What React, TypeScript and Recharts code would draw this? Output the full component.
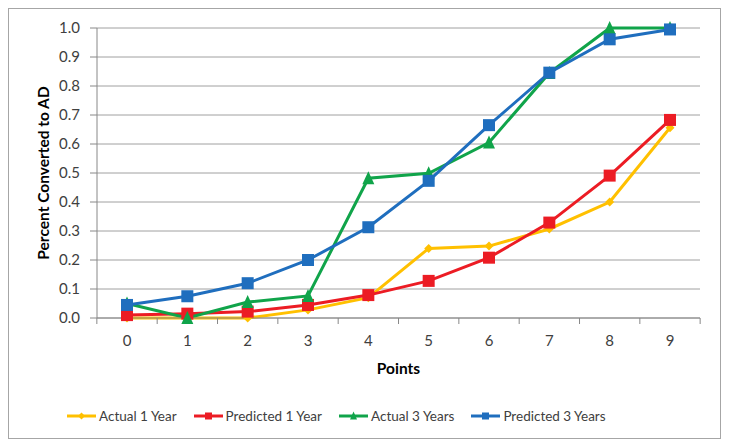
import { LineChart, Line, XAxis, YAxis, CartesianGrid, Legend } from "recharts"

const points = ["0", "1", "2", "3", "4", "5", "6", "7", "8", "9"]
const actual1 = [0.0, 0.0, 0.0, 0.028, 0.07, 0.24, 0.248, 0.307, 0.4, 0.656]
const predicted1 = [0.01, 0.015, 0.022, 0.045, 0.079, 0.128, 0.208, 0.329, 0.491, 0.683]
const actual3 = [0.05, 0.0, 0.055, 0.076, 0.482, 0.499, 0.605, 0.845, 1.0, 1.0]
const predicted3 = [0.045, 0.075, 0.12, 0.2, 0.313, 0.473, 0.665, 0.846, 0.961, 0.995]
const yTicks = [0, 0.1, 0.2, 0.3, 0.4, 0.5, 0.6, 0.7, 0.8, 0.9, 1.0]

const data = points.map((p, i) => ({
  point: p,
  actual1: actual1[i],
  predicted1: predicted1[i],
  actual3: actual3[i],
  predicted3: predicted3[i],
}))

const series = [
  { key: "actual1", name: "Actual 1 Year", color: "#FFC000", shape: "diamond" },
  { key: "predicted1", name: "Predicted 1 Year", color: "#EC1C24", shape: "square" },
  { key: "actual3", name: "Actual 3 Years", color: "#10A44A", shape: "triangle" },
  { key: "predicted3", name: "Predicted 3 Years", color: "#1F6EBE", shape: "square" },
]

const font = "Lato, 'Open Sans', sans-serif"

function Marker({ shape, cx, cy, color, s }: any) {
  if (shape === "square")
    return <rect x={cx - s} y={cy - s} width={s * 2} height={s * 2} fill={color} />
  if (shape === "triangle")
    return <polygon points={`${cx},${cy - s - 1} ${cx + s},${cy + s} ${cx - s},${cy + s}`} fill={color} />
  return <polygon points={`${cx},${cy - s} ${cx + s},${cy} ${cx},${cy + s} ${cx - s},${cy}`} fill={color} />
}

const makeDot = (shape: string, color: string, s: number) => (props: any) => {
  const { cx, cy, index } = props
  return (
    <g key={`${shape}-${color}-${index}`}>
      <Marker shape={shape} cx={cx} cy={cy} color={color} s={s} />
    </g>
  )
}

// Excel-style ticks sit between categories, so draw them ourselves
const XTick = (props: any) => {
  const { x, y, payload, index } = props
  const half = 30.15
  return (
    <g>
      <line x1={x - half} x2={x - half} y1={y - 8} y2={y - 2} stroke="#888" />
      {index === points.length - 1 && (
        <line x1={x + half} x2={x + half} y1={y - 8} y2={y - 2} stroke="#888" />
      )}
      <text x={x} y={y + 20} textAnchor="middle" fontSize={15} fill="#404040" fontFamily={font}>
        {payload.value}
      </text>
    </g>
  )
}

const LegendContent = () => (
  <div style={{ display: "flex", justifyContent: "flex-start", paddingLeft: 58, fontFamily: font, fontSize: 13.5, color: "#404040" }}>
    {series.map((s) => (
      <div key={s.key} style={{ display: "flex", alignItems: "center", marginRight: 17 }}>
        <svg width={29} height={10} style={{ marginRight: 3 }}>
          <line x1={0} x2={29} y1={5} y2={5} stroke={s.color} strokeWidth={3} />
          <Marker shape={s.shape} cx={14.5} cy={5} color={s.color} s={3.5} />
        </svg>
        <span>{s.name}</span>
      </div>
    ))}
  </div>
)

export default function App() {
  return (
    <div style={{ width: 711, height: 429, border: "1px solid #A6A6A6", background: "#fff" }}>
      <LineChart width={711} height={429} data={data} margin={{ top: 19, right: 20, left: 0, bottom: 0 }}>
        <CartesianGrid vertical={false} stroke="#A0A0A0" strokeWidth={1} />
        <XAxis
          dataKey="point"
          stroke="#888"
          tickLine={false}
          tick={<XTick />}
          padding={{ left: 30, right: 30 }}
          height={90}
          label={{ value: "Points", position: "insideTop", offset: 45, style: { fontFamily: font, fontSize: 15.5, fontWeight: 700, fill: "#000" } }}
        />
        <YAxis
          domain={[0, 1]}
          ticks={yTicks}
          width={88}
          stroke="#888"
          tickSize={7}
          tickMargin={10}
          tickFormatter={(v: number) => v.toFixed(1)}
          tick={{ fontSize: 15, fill: "#404040", fontFamily: font }}
          interval={0}
          label={{ value: "Percent Converted to AD", angle: -90, position: "insideLeft", offset: 34, style: { textAnchor: "middle", fontFamily: font, fontSize: 15.5, fontWeight: 700, fill: "#000" } }}
        />
        <Legend verticalAlign="bottom" height={30} content={<LegendContent />} />
        {series.map((s) => (
          <Line
            key={s.key}
            type="linear"
            dataKey={s.key}
            name={s.name}
            stroke={s.color}
            strokeWidth={3}
            dot={makeDot(s.shape, s.color, s.shape === "diamond" ? 4.5 : 6)}
            activeDot={false}
            isAnimationActive={false}
          />
        ))}
      </LineChart>
    </div>
  )
}
